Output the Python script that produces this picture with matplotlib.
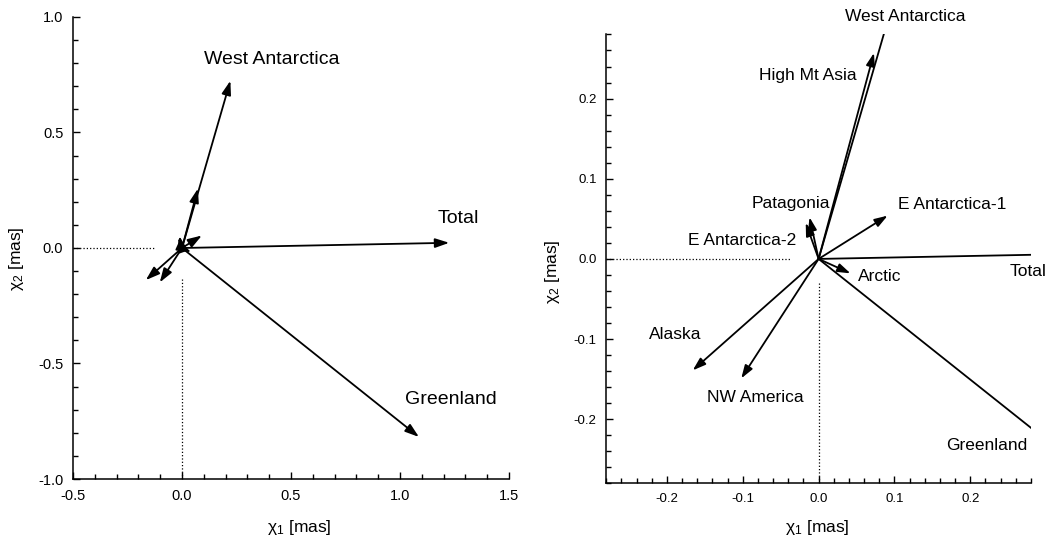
"""Excitation vectors of polar motion by region, full view and zoom on the origin."""

import matplotlib
matplotlib.use("Agg")
import matplotlib.pyplot as plt
from matplotlib.patches import FancyArrowPatch
from matplotlib.ticker import FormatStrFormatter, MultipleLocator

# chi1 / chi2 components of each region [mas]
regions = ["West Antarctica", "High Mt Asia", "Total", "Greenland",
           "E Antarctica-1", "E Antarctica-2", "Patagonia", "Arctic",
           "Alaska", "NW America"]
chi1 = [0.222, 0.073, 1.226, 1.087, 0.091, -0.017, -0.012, 0.042, -0.166, -0.102]
chi2 = [0.724, 0.257, 0.0225, -0.818, 0.054, 0.045, 0.052, -0.018, -0.139, -0.149]

# labels drawn on each panel
left_labels = ["West Antarctica", "Total", "Greenland"]
right_labels = regions

plt.rcParams["font.family"] = ["Liberation Sans", "DejaVu Sans"]
plt.rcParams["axes.unicode_minus"] = False
plt.rcParams["mathtext.fontset"] = "custom"
plt.rcParams["mathtext.rm"] = "Liberation Sans"
plt.rcParams["mathtext.it"] = "Liberation Sans:italic"

fig = plt.figure(figsize=(10.52, 5.41), dpi=100)
ax1 = fig.add_axes([0.0694, 0.1146, 0.4144, 0.854])
ax2 = fig.add_axes([0.5763, 0.1065, 0.4037, 0.8298])


def style(ax, lim_x, lim_y, major, minor, labelsize):
    ax.set_xlim(*lim_x)
    ax.set_ylim(*lim_y)
    for side in ("top", "right"):
        ax.spines[side].set_visible(False)
    for side in ("left", "bottom"):
        ax.spines[side].set_linewidth(1.1)
    for axis in (ax.xaxis, ax.yaxis):
        axis.set_major_locator(MultipleLocator(major))
        axis.set_minor_locator(MultipleLocator(minor))
        axis.set_major_formatter(FormatStrFormatter("%.1f"))
    ax.tick_params(which="both", direction="in", width=1.0, pad=7,
                   labelsize=labelsize, colors="black")
    ax.tick_params(which="major", length=5)
    ax.tick_params(which="minor", length=3.5)
    ax.set_xlabel(r"$\mathrm{\chi}_1$ [mas]", fontsize=12.5)
    ax.set_ylabel(r"$\mathrm{\chi}_2$ [mas]", fontsize=12.5)


def arrows(ax, scale):
    for x, y in zip(chi1, chi2):
        ax.add_patch(FancyArrowPatch(
            (0, 0), (x, y),
            arrowstyle="-|>,head_length=0.6,head_width=0.2",
            mutation_scale=scale, lw=1.3, color="black",
            shrinkA=0, shrinkB=0, zorder=3))


# left: full extent
style(ax1, (-0.5, 1.5), (-1.0, 1.0), 0.5, 0.1, 10.5)
ax1.plot([-0.5, -0.123], [0, 0], ls=":", lw=0.9, color="black")
ax1.plot([0, 0], [-1.0, -0.134], ls=":", lw=0.9, color="black")
arrows(ax1, 14)
left_pos = {"West Antarctica": (0.414, 0.818), "Total": (1.269, 0.127),
            "Greenland": (1.234, -0.657)}
for name in left_labels:
    ax1.text(*left_pos[name], name, fontsize=14, ha="center", va="center")
ax1.xaxis.set_label_coords(0.52, -0.085)
ax1.yaxis.set_label_coords(-0.108, 0.477)

# right: zoom on the origin
style(ax2, (-0.28, 0.28), (-0.28, 0.28), 0.1, 0.02, 9.5)
ax2.plot([-0.28, -0.0365], [0, 0], ls=":", lw=0.9, color="black")
ax2.plot([0, 0], [-0.28, -0.030], ls=":", lw=0.9, color="black")
arrows(ax2, 13)
right_pos = {
    "West Antarctica": (0.114, 0.302),
    "High Mt Asia": (-0.0137, 0.229),
    "Patagonia": (-0.0365, 0.0689),
    "E Antarctica-1": (0.1767, 0.0675),
    "E Antarctica-2": (-0.1003, 0.0228),
    "Arctic": (0.0809, -0.0216),
    "Total": (0.2757, -0.016),
    "Alaska": (-0.1896, -0.0938),
    "NW America": (-0.0836, -0.173),
    "Greenland": (0.222, -0.2323),
}
for name in right_labels:
    ax2.text(*right_pos[name], name, fontsize=12.5, ha="center", va="center")
ax2.xaxis.set_label_coords(0.498, -0.077)
ax2.yaxis.set_label_coords(-0.104, 0.471)

fig.savefig("out.png", dpi=100, facecolor="white")
